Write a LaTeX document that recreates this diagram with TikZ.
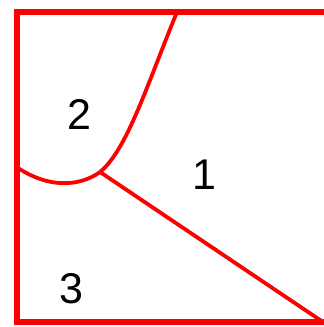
\documentclass[tikz,border=0pt]{standalone}
\usepackage{fontspec}
\setmainfont{Liberation Sans}
\begin{document}
\begin{tikzpicture}[x=1pt,y=-1pt]
            %
            % `frame' is used for the outer box.
            % `border' is used for the lines between the regions.
            % `region' is used for the region numbers.
            \tikzstyle{frame} = [draw=red,line width=5.5pt]
            \tikzstyle{border} = [draw=red,line width=3.8pt]
            \tikzstyle{region} = [inner sep=0pt,font=\fontsize{43}{43}\selectfont]
            %
            \useasboundingbox (0,0) rectangle (324,327);
            %
            % Corners
            \coordinate (tl) at (17,12);
            \coordinate (br) at (329,322);
            \coordinate (top) at (177,12);
            \coordinate (left) at (18,168);
            \coordinate (joint) at (100,172);
            \coordinate (corner) at (323,322);
            %
            % Regions
            \node[region] (r1) at (204,175) {1};
            \node[region] (r2) at (79,114) {2};
            \node[region] (r3) at (71,289) {3};
            %
            % Borders
            \draw[border] (top) .. controls (147,85) and (127,150) .. (joint);
            \draw[border] (joint) .. controls (85,183) and (55,192) .. (left);
            \draw[border] (joint) -- (corner);
            \draw[frame] (tl) rectangle (br);
        \end{tikzpicture}
\end{document}
